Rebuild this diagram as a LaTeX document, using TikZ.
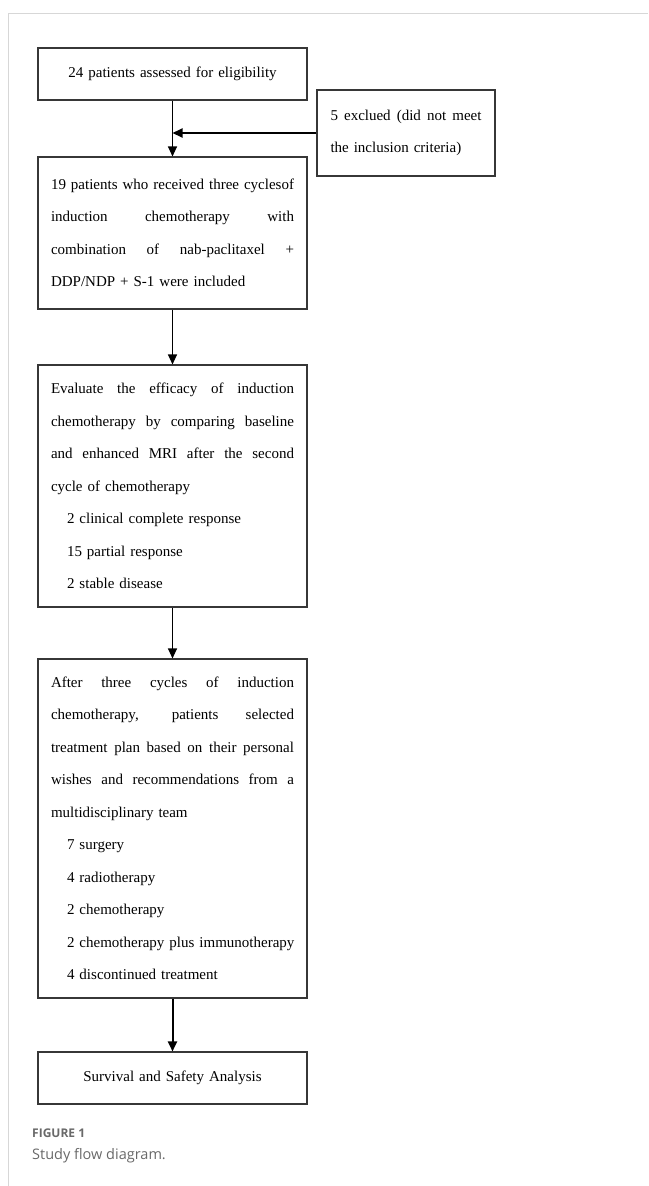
\documentclass[tikz,border=0pt]{standalone}
\usepackage{fontspec}
\setmainfont{Liberation Serif}
\newfontfamily\capfont{Open Sans}
\usetikzlibrary{arrows.meta,calc}
\definecolor{framegray}{RGB}{215,215,215}
\definecolor{boxline}{RGB}{55,55,55}
\definecolor{capgray}{RGB}{105,105,105}
\newcommand{\jl}[2][243pt]{\leavevmode\hbox to #1{\spaceskip=0pt\xspaceskip=0pt #2}}
\newcommand{\il}[1]{\hspace*{16pt}\mbox{#1}}
\begin{document}
\begin{tikzpicture}[x=1pt,y=-1pt,
  flowbox/.style={draw=boxline, line width=1.1pt, rectangle, align=left,
    font=\fontsize{15}{32.5}\selectfont, inner xsep=13pt, inner ysep=0pt},
  thinarrow/.style={draw=black, line width=1.1pt, -{Triangle[length=10pt,width=9pt]}},
  thickarrow/.style={draw=black, line width=2pt, -{Triangle[length=10pt,width=9pt]}},
  capstyle/.style={anchor=west, inner sep=0pt, text=capgray}
]
\useasboundingbox (0,0) rectangle (648,1186);
% frame
\draw[framegray, line width=1pt] (8,1186) -- (8,13) -- (648,13);

\node[flowbox, text width=243pt, minimum height=52pt, align=center] (b1) at (172.5,74)
  {24 patients assessed for eligibility};

\node[flowbox, text width=151pt, minimum height=86pt, inner xsep=13.5pt] (ex) at (406,133)
  {\jl[151pt]{5 exclued (did not meet}\\the inclusion criteria)};

\node[flowbox, text width=243pt, minimum height=152pt] (b2) at (172.5,233)
  {\jl{19 patients who received three cyclesof}\\
   \jl{induction chemotherapy with}\\
   \jl{combination of nab-paclitaxel +}\\
   DDP/NDP + S-1 were included};

\node[flowbox, text width=243pt, minimum height=242pt] (b3) at (172.5,486)
  {\jl{Evaluate the efficacy of induction}\\
   \jl{chemotherapy by comparing baseline}\\
   \jl{and enhanced MRI after the second}\\
   cycle of chemotherapy\\
   \il{2 clinical complete response}\\
   \il{15 partial response}\\
   \il{2 stable disease}};

\node[flowbox, text width=243pt, minimum height=339pt] (b4) at (172.5,828.5)
  {\jl{After three cycles of induction}\\
   \jl{chemotherapy, patients selected}\\
   \jl{treatment plan based on their personal}\\
   \jl{wishes and recommendations from a}\\
   multidisciplinary team\\
   \il{7 surgery}\\
   \il{4 radiotherapy}\\
   \il{2 chemotherapy}\\
   \il{2 chemotherapy plus immunotherapy}\\
   \il{4 discontinued treatment}};

\node[flowbox, text width=243pt, minimum height=52pt, align=center] (b5) at (172.5,1078)
  {Survival and Safety Analysis};

\coordinate (j) at (b1.south |- ex.west);

\draw[thinarrow] (b1.south) -- (b2.north);
\draw[thickarrow] (ex.west) -- (j);
\draw[thinarrow] (b2.south) -- (b3.north);
\draw[thinarrow] (b3.south) -- (b4.north);
\draw[thickarrow] (b4.south) -- (b5.north);

\node[capstyle, font=\capfont\bfseries\fontsize{12}{14}\selectfont] (cap1) at (32,1133) {FIGURE 1};
\node[capstyle, font=\capfont\fontsize{14.5}{16}\selectfont] (cap2) at (32,1156) {Study flow diagram.};
\end{tikzpicture}
\end{document}
